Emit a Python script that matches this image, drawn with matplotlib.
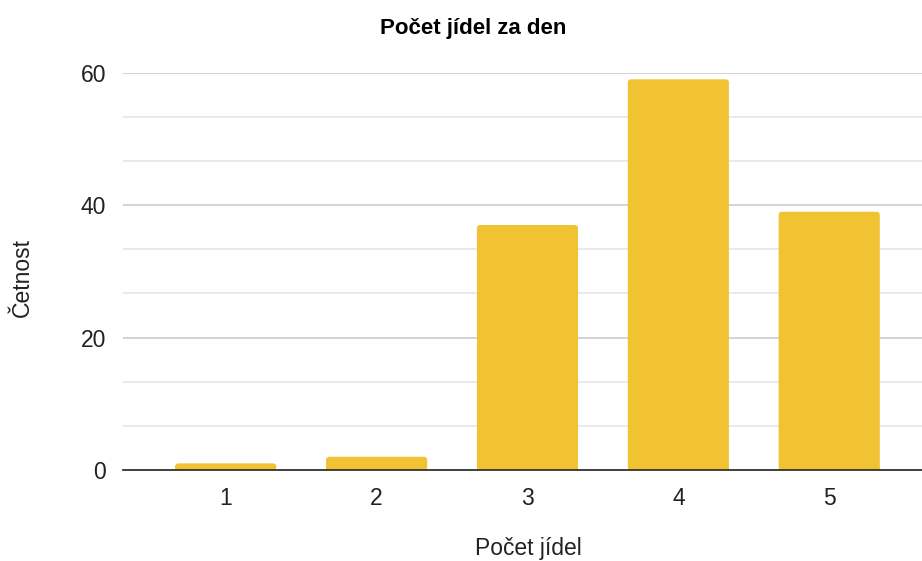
import matplotlib.pyplot as plt
from matplotlib.ticker import MultipleLocator
from matplotlib.patches import FancyBboxPatch, Rectangle

# Data
meals = [1, 2, 3, 4, 5]
counts = [1, 2, 37, 59, 39]

plt.rcParams['font.family'] = ['Liberation Sans', 'DejaVu Sans']

fig = plt.figure(figsize=(9.22, 5.61), dpi=100)
ax = fig.add_axes([0.1334, 0.1622, 0.8666, 0.7082])

ax.set_xlim(0.319, 5.615)
ax.set_ylim(0, 60)

bars = ax.bar(meals, counts, width=0.67, color='#f1c232', zorder=3)

# rounded top corners (~3 px)
px_x = (5.615 - 0.319) / (0.8666 * 922)
px_y = 60 / (0.7082 * 561)
r = 3 * px_x
for b in bars:
    x, w, h = b.get_x(), b.get_width(), b.get_height()
    b.set_visible(False)
    ax.add_patch(FancyBboxPatch((x, 0), w, h, boxstyle=f'round,pad=0,rounding_size={r}',
                                mutation_aspect=px_y / px_x, facecolor='#f1c232',
                                edgecolor='none', zorder=3))
    ax.add_patch(Rectangle((x, 0), w, min(h, 4 * px_y), facecolor='#f1c232',
                           edgecolor='none', zorder=3))

ax.yaxis.set_major_locator(MultipleLocator(20))
ax.yaxis.set_minor_locator(MultipleLocator(20 / 3))
ax.set_xticks(meals)
ax.set_xticklabels([str(m) for m in meals])

ax.grid(axis='y', which='major', color='#cccccc', linewidth=1.2, zorder=0)
ax.grid(axis='y', which='minor', color='#e6e6e6', linewidth=1.2, zorder=0)

for side in ['top', 'right', 'left']:
    ax.spines[side].set_visible(False)
ax.spines['bottom'].set_color('#333333')
ax.spines['bottom'].set_linewidth(1.3)
ax.spines['bottom'].set_zorder(4)

ax.tick_params(axis='both', which='both', length=0, labelsize=16.5, colors='#222222')
ax.tick_params(axis='y', pad=12)
ax.tick_params(axis='x', pad=12)

fig.text(0.513, 0.950, 'Počet jídel za den', ha='center', va='center',
         fontsize=16, fontweight='bold', color='#000000')
fig.text(0.573, 0.022, 'Počet jídel', ha='center', va='center',
         fontsize=16.5, color='#222222')
fig.text(0.024, 0.505, 'Četnost', ha='center', va='center', rotation=90,
         fontsize=16.5, color='#222222')

plt.savefig('out.png', dpi=100)
